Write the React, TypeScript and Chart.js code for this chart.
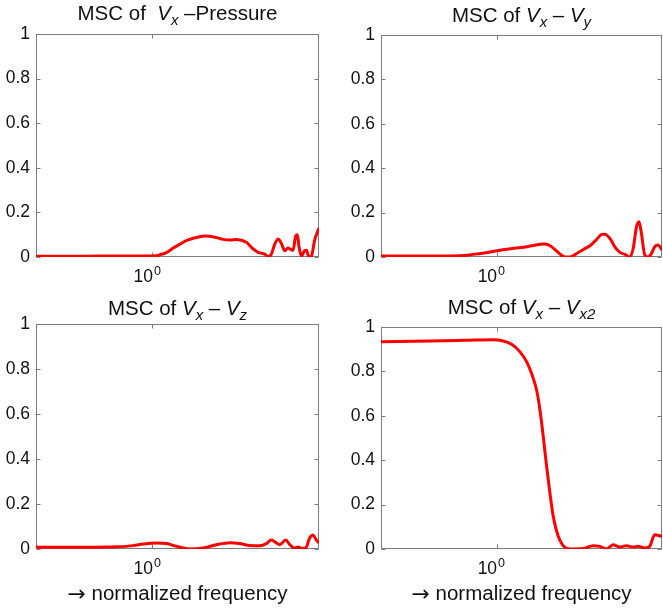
import React, { useEffect, useRef } from 'react';
import { Chart, registerables } from 'chart.js';

Chart.register(...registerables);

// ---------- data ----------
const X_MIN = 0.3;
const X_MAX = 5.6;
const yTicks = [0, 0.2, 0.4, 0.6, 0.8, 1];
const yTickLabels = ['0', '0.2', '0.4', '0.6', '0.8', '1'];
const xTicks = [1];
const xTickBases = ['10'];
const xTickExps = ['0'];

const freqPressure = [0.3, 0.411, 0.581, 0.82, 1.043, 1.08, 1.157, 1.24, 1.327, 1.422, 1.524, 1.633, 1.719, 1.809, 1.939, 2.077, 2.226, 2.385, 2.643, 2.832, 2.982, 3.194, 3.306, 3.422, 3.542, 3.667, 3.796, 3.929, 4.066, 4.165, 4.281, 4.4, 4.477, 4.555, 4.666, 4.83, 4.914, 5.05, 5.173, 5.355, 5.6];
const mscPressure = [0.003, 0.003, 0.004, 0.005, 0.006, 0.01, 0.02, 0.04, 0.057, 0.074, 0.084, 0.091, 0.094, 0.093, 0.087, 0.079, 0.076, 0.079, 0.066, 0.036, 0.021, 0.013, 0.002, 0.013, 0.057, 0.081, 0.06, 0.028, 0.04, 0.035, 0.03, 0.094, 0.1, 0.046, 0.005, 0.028, 0.03, 0.0, 0.003, 0.076, 0.13];

const freqVy = [0.3, 0.424, 0.559, 0.712, 0.846, 1.005, 1.195, 1.372, 1.522, 1.631, 1.718, 1.809, 1.938, 2.042, 2.15, 2.304, 2.469, 2.645, 2.835, 2.985, 3.09, 3.254, 3.427, 3.612, 3.803, 4.005, 4.146, 4.293, 4.412, 4.521, 4.68, 4.844, 5.013, 5.189, 5.372, 5.6];
const mscVy = [0.005, 0.005, 0.005, 0.007, 0.016, 0.028, 0.039, 0.046, 0.055, 0.058, 0.055, 0.039, 0.013, 0.0, 0.0, 0.016, 0.034, 0.051, 0.079, 0.102, 0.103, 0.084, 0.046, 0.021, 0.012, 0.0, 0.037, 0.136, 0.159, 0.106, 0.009, 0.0, 0.015, 0.046, 0.054, 0.031];

const freqVz = [0.3, 0.489, 0.69, 0.82, 0.909, 1.043, 1.157, 1.283, 1.472, 1.69, 1.939, 2.226, 2.467, 2.736, 3.033, 3.25, 3.422, 3.604, 3.731, 3.969, 4.136, 4.355, 4.507, 4.666, 4.878, 5.086, 5.263, 5.448, 5.6];
const mscVz = [0.008, 0.008, 0.01, 0.015, 0.022, 0.027, 0.024, 0.012, 0.0, 0.004, 0.019, 0.028, 0.024, 0.016, 0.015, 0.024, 0.04, 0.027, 0.019, 0.04, 0.02, 0.003, 0.009, 0.003, 0.004, 0.049, 0.062, 0.04, 0.027];

const freqVx2 = [0.3, 0.501, 0.708, 0.967, 1.073, 1.17, 1.276, 1.368, 1.44, 1.517, 1.571, 1.626, 1.684, 1.743, 1.804, 1.9, 2.001, 2.145, 2.464, 2.733, 2.929, 3.14, 3.365, 3.607, 3.866, 4.142, 4.364, 4.677, 4.925, 5.188, 5.6];
const mscVx2 = [0.934, 0.937, 0.94, 0.943, 0.937, 0.922, 0.888, 0.843, 0.79, 0.716, 0.626, 0.506, 0.371, 0.251, 0.147, 0.057, 0.015, 0.0, 0.002, 0.015, 0.012, 0.0, 0.019, 0.009, 0.015, 0.009, 0.012, 0.004, 0.012, 0.064, 0.057];

const xAxisArrow = '\u2192';
const xAxisText = ' normalized frequency';

// ---------- styles ----------
const FONT = '"Liberation Sans", Arial, Helvetica, sans-serif';
const ARROW_FONT = '"DejaVu Sans", sans-serif';
const LINE_COLOR = '#ff0000';
const AXIS_COLOR = '#7c7c7c';
const TEXT_COLOR = '#111';

type Seg = { t: string; it?: boolean; sub?: boolean; fam?: string; size?: number; dy?: number };

type Spec = {
  cv: { x: number; y: number; w: number; h: number };
  area: { l: number; t: number; r: number; b: number };
  title: Seg[];
  titleBaseline: number;
  showXLabel: boolean;
  freq: number[];
  msc: number[];
};

const panels: Spec[] = [
  {
    cv: { x: 0, y: 0, w: 330, h: 290 },
    area: { l: 36, t: 34, r: 319, b: 257 },
    title: [{ t: 'MSC of  ' }, { t: 'V', it: true }, { t: 'x', it: true, sub: true }, { t: ' \u2013' }, { t: 'Pressure' }],
    titleBaseline: 20,
    showXLabel: false,
    freq: freqPressure,
    msc: mscPressure,
  },
  {
    cv: { x: 330, y: 0, w: 333, h: 290 },
    area: { l: 381, t: 35, r: 662, b: 257 },
    title: [{ t: 'MSC of ' }, { t: 'V', it: true }, { t: 'x', it: true, sub: true }, { t: ' \u2013 ' }, { t: 'V', it: true }, { t: 'y', it: true, sub: true }],
    titleBaseline: 21.5,
    showXLabel: false,
    freq: freqVy,
    msc: mscVy,
  },
  {
    cv: { x: 0, y: 290, w: 330, h: 319 },
    area: { l: 36, t: 324, r: 319, b: 549 },
    title: [{ t: 'MSC of ' }, { t: 'V', it: true }, { t: 'x', it: true, sub: true }, { t: ' \u2013 ' }, { t: 'V', it: true }, { t: 'z', it: true, sub: true }],
    titleBaseline: 24.5,
    showXLabel: true,
    freq: freqVz,
    msc: mscVz,
  },
  {
    cv: { x: 330, y: 290, w: 333, h: 319 },
    area: { l: 381, t: 327, r: 662, b: 549 },
    title: [{ t: 'MSC of ' }, { t: 'V', it: true }, { t: 'x', it: true, sub: true }, { t: ' \u2013 ' }, { t: 'V', it: true }, { t: 'x2', it: true, sub: true }],
    titleBaseline: 23.5,
    showXLabel: true,
    freq: freqVx2,
    msc: mscVx2,
  },
];

function drawRich(ctx: CanvasRenderingContext2D, segs: Seg[], cx: number, baseline: number, size: number, subSize: number, subDy: number) {
  const fontFor = (s: Seg) => `${s.it ? 'italic ' : ''}${s.size ?? (s.sub ? subSize : size)}px ${s.fam ?? FONT}`;
  const widths: number[] = [];
  let total = 0;
  for (const s of segs) {
    ctx.font = fontFor(s);
    const w = ctx.measureText(s.t).width;
    widths.push(w);
    total += w;
  }
  let x = cx - total / 2;
  ctx.textAlign = 'left';
  ctx.textBaseline = 'alphabetic';
  ctx.fillStyle = TEXT_COLOR;
  segs.forEach((s, i) => {
    ctx.font = fontFor(s);
    ctx.fillText(s.t, x, baseline + (s.sub ? subDy : 0) + (s.dy ?? 0));
    x += widths[i];
  });
}

function Panel({ spec }: { spec: Spec }) {
  const ref = useRef<HTMLCanvasElement>(null);
  useEffect(() => {
    const canvas = ref.current;
    if (!canvas) return;
    const { cv, area } = spec;
    const decor = {
      id: 'decor',
      beforeDatasetsDraw(chart: any) {
        const ctx: CanvasRenderingContext2D = chart.ctx;
        const a = chart.chartArea;
        const L = Math.round(a.left) + 0.5;
        const R = Math.round(a.right) - 0.5;
        const T = Math.round(a.top) + 0.5;
        const B = Math.round(a.bottom) - 0.5;
        ctx.save();
        ctx.strokeStyle = AXIS_COLOR;
        ctx.lineWidth = 1;
        ctx.strokeRect(L, T, R - L, B - T);
        const tl = 4;
        ctx.beginPath();
        for (const v of yTicks) {
          const py = Math.round(chart.scales.y.getPixelForValue(v)) + 0.5;
          ctx.moveTo(L, py); ctx.lineTo(L + tl, py);
          ctx.moveTo(R, py); ctx.lineTo(R - tl, py);
        }
        for (const v of xTicks) {
          const px = Math.round(chart.scales.x.getPixelForValue(v)) + 0.5;
          ctx.moveTo(px, T); ctx.lineTo(px, T + tl);
          ctx.moveTo(px, B); ctx.lineTo(px, B - tl);
        }
        ctx.stroke();
        ctx.restore();
      },
      afterDraw(chart: any) {
        const ctx: CanvasRenderingContext2D = chart.ctx;
        const a = chart.chartArea;
        ctx.save();
        ctx.fillStyle = TEXT_COLOR;
        ctx.textBaseline = 'alphabetic';
        xTicks.forEach((v, i) => {
          const px = chart.scales.x.getPixelForValue(v);
          ctx.font = `17.5px ${FONT}`;
          ctx.textAlign = 'right';
          ctx.fillText(xTickBases[i], px + 0.5, a.bottom + 24.7);
          ctx.font = `12.5px ${FONT}`;
          ctx.textAlign = 'left';
          ctx.fillText(xTickExps[i], px + 1.5, a.bottom + 17.5);
        });
        const cx = (a.left + a.right) / 2;
        drawRich(ctx, spec.title, cx, spec.titleBaseline, 20.5, 15, 5);
        if (spec.showXLabel) {
          drawRich(
            ctx,
            [{ t: xAxisArrow, fam: ARROW_FONT, size: 22, dy: 1 }, { t: xAxisText }],
            cx,
            a.bottom + 51,
            20.5,
            15,
            5,
          );
        }
        ctx.restore();
      },
    };

    const chart = new Chart(canvas, {
      type: 'line',
      data: {
        datasets: [
          {
            data: spec.freq.map((f, i) => ({ x: f, y: spec.msc[i] })),
            borderColor: LINE_COLOR,
            borderWidth: 3,
            pointRadius: 0,
            cubicInterpolationMode: 'monotone',
            fill: false,
          } as any,
        ],
      },
      options: {
        responsive: false,
        animation: false,
        devicePixelRatio: 1,
        layout: { padding: { left: 0, top: area.t - cv.y, right: cv.x + cv.w - area.r, bottom: 0 } },
        plugins: { legend: { display: false }, tooltip: { enabled: false }, title: { display: false } },
        scales: {
          x: {
            type: 'logarithmic',
            min: X_MIN,
            max: X_MAX,
            grid: { display: false, drawTicks: false },
            border: { display: false },
            ticks: { display: false },
            afterFit(s: any) { s.height = cv.y + cv.h - area.b; },
          },
          y: {
            type: 'linear',
            min: 0,
            max: 1,
            grid: { display: false, drawTicks: false },
            border: { display: false },
            ticks: {
              autoSkip: false,
              padding: 6,
              color: TEXT_COLOR,
              font: { family: FONT, size: 17.5 },
              callback: (v: any) => {
                const idx = yTicks.findIndex((t) => Math.abs(t - Number(v)) < 1e-9);
                return idx >= 0 ? yTickLabels[idx] : '';
              },
            },
            afterBuildTicks(s: any) { s.ticks = yTicks.map((v) => ({ value: v })); },
            afterFit(s: any) { s.width = area.l - cv.x; },
          },
        },
      } as any,
      plugins: [decor],
    });
    return () => chart.destroy();
  }, [spec]);
  const { cv } = spec;
  return (
    <canvas
      ref={ref}
      width={cv.w}
      height={cv.h}
      style={{ position: 'absolute', left: cv.x, top: cv.y, width: cv.w, height: cv.h }}
    />
  );
}

export default function App() {
  return (
    <div style={{ position: 'absolute', left: 0, top: 0, width: 663, height: 609, background: '#fff', overflow: 'hidden' }}>
      {panels.map((p, i) => (
        <Panel key={i} spec={p} />
      ))}
    </div>
  );
}
